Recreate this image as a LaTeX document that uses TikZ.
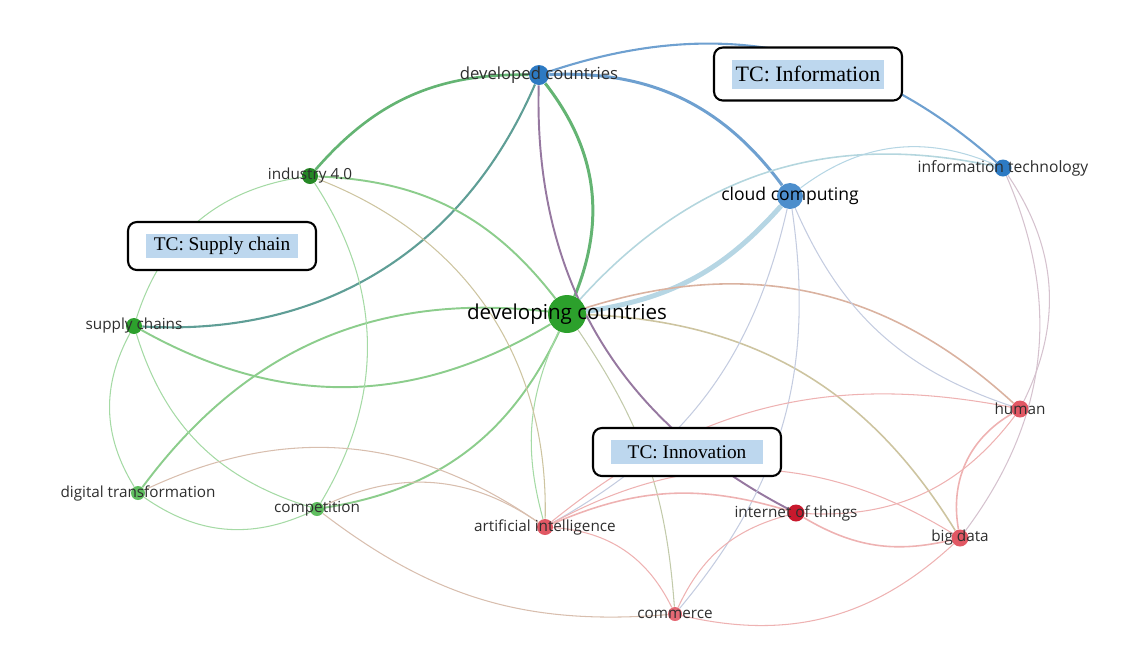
\documentclass[tikz,border=0pt]{standalone}
\usepackage{fontspec}
\setmainfont{Liberation Serif}
\setsansfont{Open Sans}
\usepackage{xcolor}
\usetikzlibrary{backgrounds}
\definecolor{kwgreen}{RGB}{44,160,44}
\definecolor{kwgreenl}{RGB}{95,190,95}
\definecolor{kwblue}{RGB}{45,122,195}
\definecolor{kwred}{RGB}{225,88,100}
\definecolor{kwredd}{RGB}{200,25,45}
\definecolor{lgreen}{RGB}{165,218,165}
\definecolor{lgreenm}{RGB}{140,205,140}
\definecolor{lgreend}{RGB}{100,180,115}
\definecolor{lteal}{RGB}{95,158,150}
\definecolor{lblue}{RGB}{110,160,208}
\definecolor{lbluel}{RGB}{182,214,228}
\definecolor{lgray}{RGB}{196,204,224}
\definecolor{lred}{RGB}{238,178,178}
\definecolor{ltan}{RGB}{205,196,160}
\definecolor{lrose}{RGB}{218,178,160}
\definecolor{lpurple}{RGB}{150,120,160}
\definecolor{hlblue}{RGB}{189,215,238}
\tikzset{
  kw/.style={circle,inner sep=0pt,minimum size=#1},
  kwlbl/.style={inner sep=0pt,text=black!82,font=\sffamily\fontsize{8.7}{10}\selectfont},
  tcbox/.style={rectangle,rounded corners=5pt,draw=black,line width=1.2pt,fill=white,
    minimum width=3.76cm,minimum height=0.96cm},
  tclbl/.style={rectangle,fill=hlblue,inner sep=0pt,minimum width=3.04cm,minimum height=0.48cm,
    font=\fontsize{11}{13}\selectfont},
  link/.style={line width=0.6pt},
  thinlink/.style={line width=0.9pt}
}

\begin{document}
\begin{tikzpicture}[x=0.02cm,y=-0.02cm]
  \useasboundingbox (0,0) rectangle (1139,647);

  \node[kw=0.40cm,fill=kwblue] (dvd) at (539,75) {};
  \node[kw=0.32cm,fill=kwgreen!85!black] (ind) at (310,176) {};
  \node[kw=0.52cm,fill=kwblue!85!white] (cc) at (790,196) {};
  \node[kw=0.34cm,fill=kwblue] (it) at (1003,168) {};
  \node[kw=0.76cm,fill=kwgreen] (dvg) at (567,314) {};
  \node[kw=0.32cm,fill=kwgreen] (sup) at (134,326) {};
  \node[kw=0.34cm,fill=kwred] (hum) at (1020,409) {};
  \node[kw=0.28cm,fill=kwgreenl] (dig) at (138,493) {};
  \node[kw=0.28cm,fill=kwgreenl] (cmp) at (317,509) {};
  \node[kw=0.32cm,fill=kwred] (ai) at (545,527) {};
  \node[kw=0.34cm,fill=kwredd] (iot) at (796,513) {};
  \node[kw=0.34cm,fill=kwred] (bd) at (960,538) {};
  \node[kw=0.28cm,fill=kwred!90!white] (cmr) at (675,614) {};

  \begin{scope}[on background layer]
    \draw[lgreend,line width=1.5pt] (ind) to[bend left=25] (dvd);
    \draw[lteal,line width=1.2pt] (sup) to[bend right=35] (dvd);
    \draw[lgreend,line width=1.7pt] (dvg) to[bend right=30] (dvd);
    \draw[lblue,line width=1.7pt] (dvd) to[bend left=28] (cc);
    \draw[lblue,line width=1.2pt] (dvd) to[bend left=30] (it);
    \draw[lpurple,line width=1.1pt] (dvd) to[bend right=32] (iot);
    \draw[lbluel,line width=2.8pt] (dvg) to[bend right=20] (cc);
    \draw[lbluel!90!lgreen,thinlink] (dvg) to[bend left=30] (it);
    \draw[lbluel,link] (cc) to[bend left=30] (it);

    \draw[lgreenm,line width=1.1pt] (ind) to[bend left=25] (dvg);
    \draw[lgreenm,line width=1.1pt] (sup) to[bend right=30] (dvg);
    \draw[lgreenm,line width=1.1pt] (dig) to[bend left=30] (dvg);
    \draw[lgreenm,line width=1.1pt] (cmp) to[bend right=28] (dvg);
    \draw[lgreen,link] (dvg) to[bend right=20] (ai);
    \draw[lgreen!60!lred,link] (dvg) to[bend left=15] (cmr);
    \draw[ltan,thinlink] (dvg) to[bend left=28] (bd);
    \draw[lrose,thinlink] (dvg) to[bend left=30] (hum);

    \draw[lgreen,link] (ind) to[bend right=32] (sup);
    \draw[lgreen,link] (ind) to[bend left=32] (cmp);
    \draw[ltan,link] (ind) to[bend left=35] (ai);
    \draw[lgreen,link] (sup) to[bend right=30] (dig);
    \draw[lgreen,link] (sup) to[bend right=28] (cmp);
    \draw[lgreen,link] (dig) to[bend right=30] (cmp);
    \draw[lred!70!lgreen,link] (dig) to[bend left=30] (ai);
    \draw[lred!70!lgreen,link] (cmp) to[bend left=30] (ai);
    \draw[lred!70!lgreen,link] (cmp) to[bend right=21] (cmr);

    \draw[lgray,link] (cc) to[bend left=24] (ai);
    \draw[lgray,link] (cc) to[bend left=24] (cmr);
    \draw[lgray,link] (cc) to[bend right=24] (hum);
    \draw[lgray!60!lred,link] (it) to[bend left=30] (hum);
    \draw[lgray!60!lred,link] (it) to[bend left=30] (bd);

    \draw[lred,thinlink] (ai) to[bend left=20] (iot);
    \draw[lred,link] (ai) to[bend left=30] (bd);
    \draw[lred,link] (ai) to[bend left=25] (hum);
    \draw[lred,link] (ai) to[bend left=30] (cmr);
    \draw[lred,link] (cmr) to[bend left=25] (iot);
    \draw[lred,link] (cmr) to[bend right=28] (bd);
    \draw[lred,thinlink] (iot) to[bend right=22] (bd);
    \draw[lred,link] (iot) to[bend right=28] (hum);
    \draw[lred,thinlink] (hum) to[bend right=35] (bd);
  \end{scope}

  \node[kwlbl,font=\sffamily\fontsize{9.5}{11}\selectfont] (dvd-l) at (dvd) {developed countries};
  \node[kwlbl] (ind-l) at (ind) {industry 4.0};
  \node[kwlbl,font=\sffamily\fontsize{10}{12}\selectfont,text=black] (cc-l) at (cc) {cloud computing};
  \node[kwlbl,font=\sffamily\fontsize{8.9}{10}\selectfont] (it-l) at (it) {information technology};
  \node[kwlbl,font=\sffamily\fontsize{11.7}{14}\selectfont,text=black] (dvg-l) at (dvg) {developing countries};
  \node[kwlbl] (sup-l) at (sup) {supply chains};
  \node[kwlbl] (hum-l) at (hum) {human};
  \node[kwlbl] (dig-l) at (dig) {digital transformation};
  \node[kwlbl] (cmp-l) at (cmp) {competition};
  \node[kwlbl] (ai-l) at (ai) {artificial intelligence};
  \node[kwlbl] (iot-l) at (iot) {internet of things};
  \node[kwlbl] (bd-l) at (bd) {big data};
  \node[kwlbl] (cmr-l) at (cmr) {commerce};

  \node[tcbox] (box-sc) at (222,246) {};
  \node[tclbl] (tc-sc) at (box-sc) {TC: Supply chain};
  \node[tcbox,minimum height=1.06cm] (box-info) at (808,74) {};
  \node[tclbl,minimum height=0.58cm,font=\fontsize{12.5}{15}\selectfont] (tc-info) at (box-info) {TC: Information};
  \node[tcbox] (box-inno) at (687,452) {};
  \node[tclbl] (tc-inno) at (box-inno) {TC: Innovation};
\end{tikzpicture}
\end{document}
